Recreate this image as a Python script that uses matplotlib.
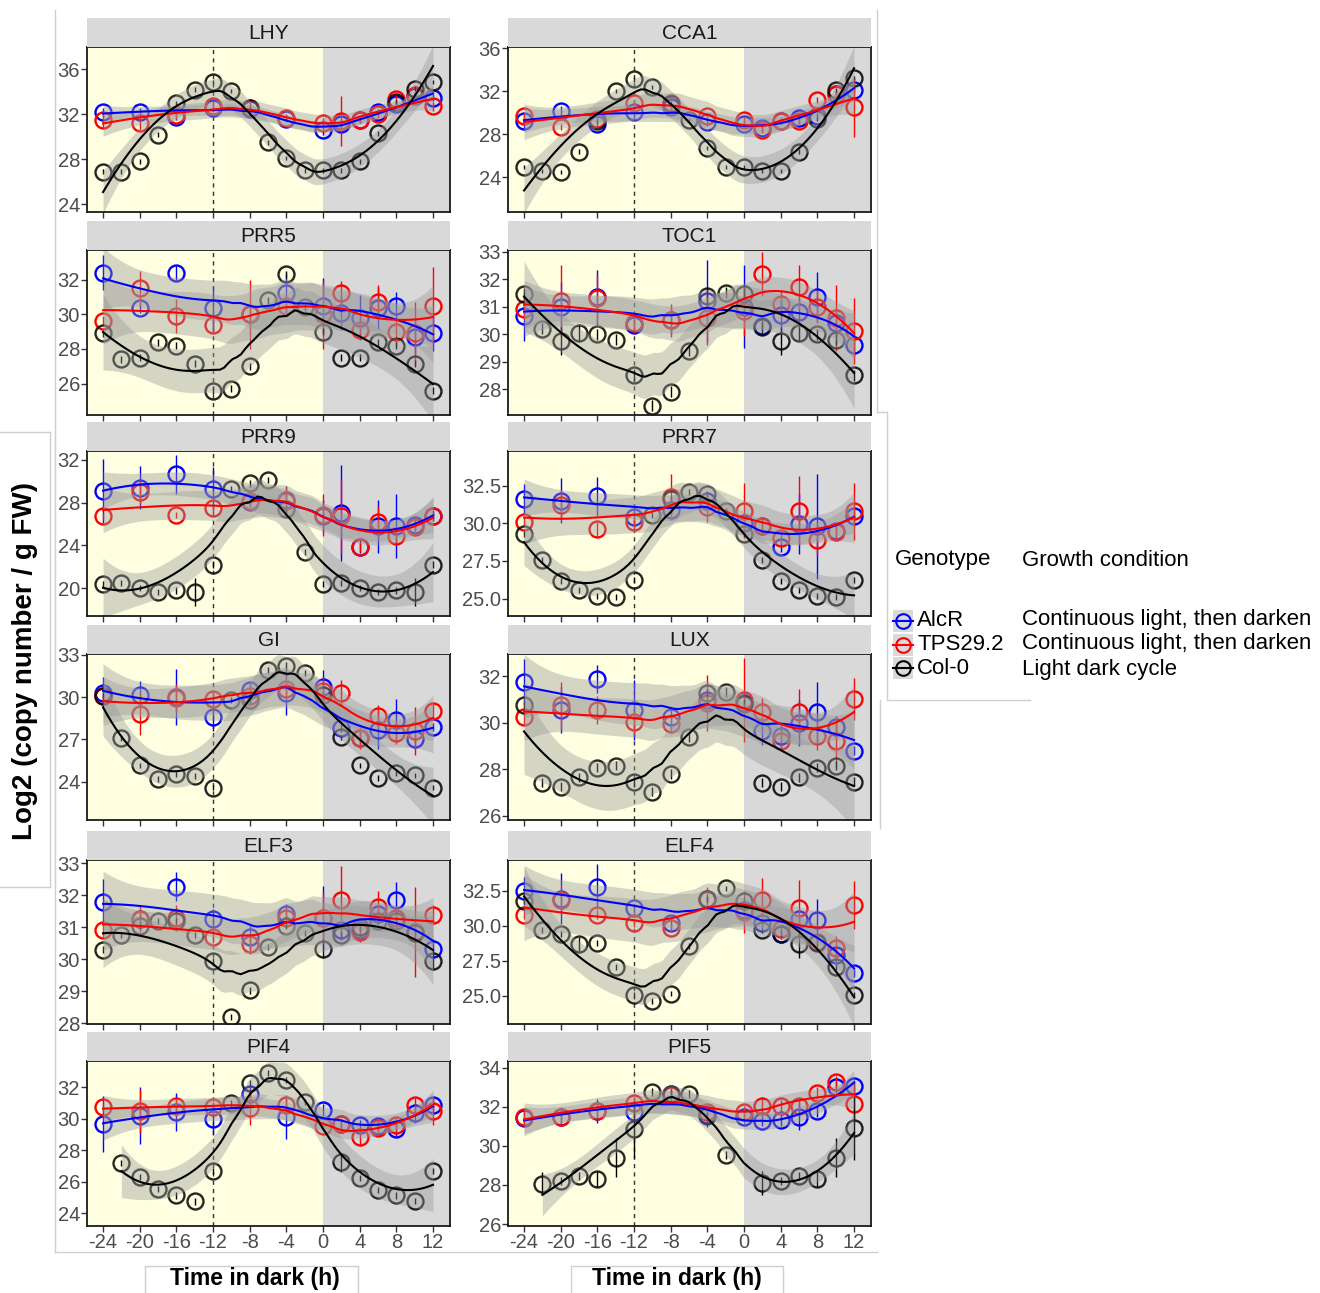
import numpy as np
import matplotlib
matplotlib.use('Agg')
import matplotlib.pyplot as plt
from matplotlib.patches import Rectangle

plt.rcParams['font.family'] = ['Liberation Sans', 'DejaVu Sans']
plt.rcParams['axes.unicode_minus'] = False

nan = np.nan

# sampling times (h in dark)
x_col = [-24, -22, -20, -18, -16, -14, -12, -10, -8, -6, -4, -2, 0, 2, 4, 6, 8, 10, 12]
x_trt = [-24, -20, -16, -12, -8, -4, 0, 2, 4, 6, 8, 10, 12]

genotypes = ['AlcR', 'TPS29.2', 'Col-0']
conditions = ['Continuous light, then darken', 'Continuous light, then darken', 'Light dark cycle']

# ---- LHY
lhy_col = [26.9, 26.9, 27.8, 30.2, 33.0, 34.2, 34.9, 34.1, 32.6, 29.5, 28.1, 27.0, 27.0, 27.0, 27.8, 30.3, 33.1, 34.3, 34.9]
lhy_col_err = [0.2, 0.2, 0.2, 0.2, 0.2, 0.2, 0.2, 0.2, 0.2, 0.2, 0.2, 0.2, 0.2, 0.2, 0.2, 0.2, 0.2, 0.2, 0.2]
lhy_alcr = [32.2, 32.2, 31.8, 32.6, 32.5, 31.6, 30.6, 31.1, 31.5, 32.2, 32.9, 33.6, 33.5]
lhy_alcr_err = [0.4, 0.4, 0.3, 0.3, 0.3, 0.3, 0.4, 0.4, 0.3, 0.3, 0.3, 0.3, 0.3]
lhy_tps = [31.5, 31.2, 31.9, 32.7, 32.6, 31.7, 31.2, 31.4, 31.5, 32.0, 33.4, 33.7, 32.7]
lhy_tps_err = [0.7, 0.7, 0.3, 0.3, 0.6, 0.3, 0.5, 2.2, 0.3, 0.3, 0.3, 0.3, 0.4]

# ---- CCA1
cca1_col = [25.0, 24.6, 24.5, 26.4, 29.25, 32.0, 33.1, 32.4, 30.8, 29.3, 26.75, 25.0, 25.0, 24.6, 24.6, 26.4, 29.4, 32.1, 33.2]
cca1_col_err = [0.2, 0.2, 0.2, 0.2, 0.2, 0.2, 0.2, 0.2, 0.2, 0.2, 0.2, 0.2, 0.2, 0.2, 0.2, 0.2, 0.2, 0.2, 0.2]
cca1_alcr = [29.2, 30.2, 29.0, 30.1, 30.5, 29.1, 29.0, 28.6, 29.25, 29.5, 29.7, 31.7, 32.1]
cca1_alcr_err = [0.8, 0.4, 0.3, 0.8, 0.3, 0.3, 0.3, 0.3, 0.3, 0.5, 0.3, 0.3, 0.3]
cca1_tps = [29.7, 28.7, 29.4, 30.9, 30.9, 29.7, 29.3, 28.4, 29.25, 29.25, 31.2, 31.7, 30.5]
cca1_tps_err = [0.3, 0.3, 0.3, 0.3, 0.8, 0.3, 0.3, 0.3, 0.3, 0.3, 0.3, 0.3, 2.7]

# ---- PRR5
prr5_col = [28.9, 27.4, 27.5, 28.4, 28.2, 27.15, 25.6, 25.7, 27.0, 30.8, 32.3, 30.4, 29.0, 27.5, 27.5, 28.4, 28.2, 27.15, 25.6]
prr5_col_err = [0.2, 0.2, 0.2, 0.2, 0.2, 0.2, 0.2, 0.2, 0.2, 0.2, 0.2, 0.2, 0.2, 0.2, 0.2, 0.2, 0.2, 0.2, 0.2]
prr5_alcr = [32.4, 30.35, 32.4, 30.35, 30.0, 31.2, 30.5, 30.1, 29.8, 30.35, 30.5, 28.7, 28.9]
prr5_alcr_err = [1.0, 0.3, 0.4, 1.3, 0.6, 1.1, 1.6, 1.0, 1.3, 1.2, 0.8, 1.0, 1.0]
prr5_tps = [29.6, 31.5, 29.9, 29.4, 30.0, 30.5, 30.0, 31.2, 29.1, 30.7, 29.0, 28.9, 30.5]
prr5_tps_err = [0.3, 1.0, 1.0, 0.5, 2.0, 0.3, 2.0, 0.7, 0.5, 1.0, 0.8, 1.8, 2.2]

# ---- TOC1
toc1_col = [31.47, 30.2, 29.75, 30.06, 30.0, 29.8, 28.5, 27.4, 27.9, 29.4, 31.4, 31.5, 31.47, 30.25, 29.75, 30.06, 30.0, 29.8, 28.5]
toc1_col_err = [0.2, 0.2, 0.5, 0.3, 0.2, 0.2, 0.2, 0.2, 0.2, 0.2, 0.3, 0.2, 0.2, 0.2, 0.5, 0.3, 0.2, 0.2, 0.2]
toc1_alcr = [30.65, 31.0, 31.35, 30.35, 30.5, 31.2, 31.0, 30.3, 30.7, 30.8, 31.35, 30.4, 29.6]
toc1_alcr_err = [0.9, 0.9, 1.0, 0.2, 0.5, 1.5, 1.5, 0.2, 0.6, 0.5, 0.9, 0.5, 0.4]
toc1_tps = [30.9, 31.2, 31.3, 30.4, 30.5, 30.6, 30.85, 32.2, 31.1, 31.7, 31.0, 30.6, 30.1]
toc1_tps_err = [0.3, 1.3, 0.9, 0.2, 0.6, 1.0, 0.9, 0.8, 0.5, 0.8, 0.6, 1.2, 1.2]

# ---- PRR9
prr9_col = [20.4, 20.5, 20.0, 19.65, 19.8, 19.65, 22.2, 29.3, 29.8, 30.1, 27.4, 23.4, 20.4, 20.5, 20.0, 19.65, 19.8, 19.65, 22.2]
prr9_col_err = [0.3, 0.3, 0.3, 0.3, 0.3, 1.3, 0.3, 0.3, 0.3, 0.3, 0.3, 0.3, 0.3, 0.3, 0.3, 0.3, 0.3, 1.3, 0.3]
prr9_alcr = [29.1, 29.4, 30.65, 29.3, 28.1, 28.3, 26.75, 27.0, 23.9, 25.8, 25.8, 25.9, 26.8]
prr9_alcr_err = [3.0, 2.0, 1.8, 2.0, 0.5, 1.3, 1.5, 4.5, 0.6, 2.5, 3.0, 0.5, 0.5]
prr9_tps = [26.75, 29.0, 26.85, 27.5, 28.15, 28.2, 26.85, 26.75, 23.85, 26.2, 24.9, 25.7, 26.75]
prr9_tps_err = [0.3, 1.0, 0.3, 0.5, 0.3, 1.3, 2.0, 3.5, 0.5, 1.5, 0.8, 0.5, 0.5]

# ---- PRR7
prr7_col = [29.26, 27.54, 26.15, 25.57, 25.2, 25.12, 26.26, 30.56, 31.6, 32.1, 31.97, 30.8, 29.26, 27.54, 26.15, 25.57, 25.2, 25.12, 26.26]
prr7_col_err = [0.2, 0.2, 0.2, 0.2, 0.2, 0.2, 0.2, 0.2, 0.2, 0.2, 0.2, 0.2, 0.2, 0.2, 0.2, 0.2, 0.2, 0.2, 0.2]
prr7_alcr = [31.63, 31.5, 31.8, 30.45, 30.9, 31.5, 30.0, 29.8, 28.4, 29.95, 29.8, 29.5, 30.5]
prr7_alcr_err = [1.0, 1.5, 1.3, 0.8, 0.3, 0.6, 0.6, 0.5, 0.3, 2.0, 3.5, 0.5, 0.4]
prr7_tps = [30.1, 31.2, 29.6, 30.1, 31.75, 31.1, 30.85, 29.8, 29.0, 30.85, 28.9, 29.45, 30.8]
prr7_tps_err = [0.3, 1.0, 0.5, 0.4, 1.5, 1.0, 1.8, 0.5, 0.5, 2.3, 1.0, 0.5, 1.9]

# ---- GI
gi_col = [30.07, 27.1, 25.17, 24.2, 24.57, 24.4, 23.6, 29.8, 29.8, 31.9, 32.2, 31.7, 30.14, 27.15, 25.17, 24.27, 24.6, 24.45, 23.6]
gi_col_err = [0.2, 0.2, 0.2, 0.2, 0.2, 0.2, 0.2, 0.2, 0.2, 0.2, 0.3, 0.2, 0.2, 0.2, 0.2, 0.2, 0.2, 0.2, 0.2]
gi_alcr = [30.3, 30.14, 30.0, 28.6, 30.47, 30.3, 30.7, 27.8, 27.1, 27.7, 28.4, 27.0, 27.87]
gi_alcr_err = [1.1, 1.0, 2.0, 1.0, 0.5, 1.6, 1.2, 0.3, 0.6, 1.4, 1.5, 0.5, 0.3]
gi_tps = [30.07, 28.8, 29.95, 29.9, 30.07, 30.6, 30.4, 30.3, 27.1, 28.65, 27.46, 27.6, 29.0]
gi_tps_err = [0.3, 1.5, 1.0, 0.5, 0.6, 0.6, 1.0, 0.9, 0.8, 0.8, 0.8, 1.7, 0.6]

# ---- LUX
lux_col = [30.75, 27.42, 27.25, 27.65, 28.07, 28.16, 27.43, 27.03, 27.8, 29.38, 31.28, 31.33, 30.83, 27.42, 27.25, 27.65, 28.07, 28.16, 27.46]
lux_col_err = [0.2, 0.2, 0.2, 0.2, 0.2, 0.2, 0.2, 0.2, 0.2, 0.2, 0.2, 0.2, 0.2, 0.2, 0.2, 0.2, 0.2, 0.2, 0.2]
lux_alcr = [31.77, 30.55, 31.88, 30.55, 30.26, 31.0, 30.87, 29.64, 29.42, 30.0, 30.46, 29.8, 28.8]
lux_alcr_err = [1.0, 1.0, 0.6, 1.3, 0.4, 0.3, 0.3, 0.6, 0.6, 1.0, 1.3, 0.5, 0.2]
lux_tps = [30.26, 30.75, 30.55, 30.03, 29.97, 30.87, 30.99, 30.46, 29.2, 30.46, 29.45, 29.2, 31.04]
lux_tps_err = [0.3, 1.0, 0.6, 0.5, 0.4, 1.2, 1.8, 0.6, 0.3, 1.0, 0.6, 1.1, 0.9]

# ---- ELF3
elf3_col = [30.3, 30.76, 31.05, 31.2, 31.2, 30.76, 29.95, 28.18, 29.02, 30.37, 31.05, 30.82, 30.32, 30.76, 31.0, 31.2, 31.2, 30.82, 29.95]
elf3_col_err = [0.1, 0.1, 0.1, 0.1, 0.1, 0.1, 0.1, 0.1, 0.1, 0.1, 0.1, 0.1, 0.3, 0.1, 0.1, 0.1, 0.1, 0.1, 0.3]
elf3_alcr = [31.8, 31.24, 32.26, 31.26, 30.68, 31.42, 31.28, 30.9, 30.9, 31.4, 31.86, 30.86, 30.32]
elf3_alcr_err = [0.7, 0.3, 0.45, 0.3, 0.4, 0.3, 1.0, 0.3, 0.3, 0.3, 0.55, 0.3, 0.3]
elf3_tps = [30.9, 31.26, 31.28, 30.7, 30.47, 31.3, 31.3, 31.86, 30.84, 31.63, 31.28, 30.84, 31.39]
elf3_tps_err = [0.2, 0.4, 0.4, 0.2, 0.3, 0.3, 0.8, 1.05, 0.3, 0.5, 0.3, 1.4, 0.3]

# ---- ELF4
elf4_col = [31.76, 29.7, 29.4, 28.7, 28.8, 27.07, 25.05, 24.64, 25.17, 28.57, 31.9, 32.67, 31.76, 29.7, 29.4, 28.7, 28.8, 27.07, 25.05]
elf4_col_err = [0.2, 0.2, 0.2, 0.5, 0.2, 0.2, 0.2, 0.2, 0.2, 0.2, 0.2, 0.2, 0.2, 0.2, 0.2, 1.0, 0.2, 0.2, 0.2]
elf4_alcr = [32.5, 31.95, 32.8, 31.29, 30.17, 31.9, 31.1, 30.2, 29.45, 30.48, 30.4, 27.9, 26.64]
elf4_alcr_err = [1.0, 1.8, 1.6, 0.3, 0.4, 0.3, 0.4, 0.3, 0.4, 0.4, 1.5, 0.5, 0.3]
elf4_tps = [30.8, 31.88, 30.8, 30.2, 29.86, 31.95, 31.0, 31.83, 29.8, 31.24, 28.86, 28.45, 31.48]
elf4_tps_err = [0.3, 0.8, 0.3, 0.3, 0.3, 0.8, 1.5, 1.6, 0.3, 2.0, 0.6, 0.8, 1.7]

# ---- PIF4
pif4_col = [nan, 27.2, 26.3, 25.54, 25.14, 24.76, 26.7, 30.98, 32.25, 32.93, 32.46, 31.06, nan, 27.24, 26.24, 25.5, 25.14, 24.8, 26.7]
pif4_col_err = [nan, 0.2, 0.2, 0.2, 0.2, 0.2, 0.2, 0.2, 0.2, 0.2, 0.2, 0.2, nan, 0.6, 0.2, 0.2, 0.2, 0.2, 0.2]
pif4_alcr = [29.68, 30.2, 30.42, 29.96, 31.55, 30.13, 30.55, 29.7, 29.64, 29.53, 29.36, 30.34, 30.9]
pif4_alcr_err = [1.8, 1.8, 1.2, 1.0, 0.5, 1.4, 0.4, 0.3, 0.3, 0.5, 0.5, 0.6, 0.5]
pif4_tps = [30.76, 30.5, 30.8, 30.76, 30.7, 30.85, 29.53, 29.7, 28.85, 29.43, 29.64, 30.9, 30.5]
pif4_tps_err = [0.3, 1.4, 0.6, 0.3, 1.1, 0.4, 0.3, 0.3, 0.6, 0.5, 0.5, 0.4, 0.9]

# ---- PIF5
pif5_col = [nan, 28.07, 28.2, 28.45, 28.31, 29.4, 30.86, 32.75, 32.67, 32.67, 31.55, 29.52, nan, 28.1, 28.2, 28.45, 28.31, 29.4, 30.9]
pif5_col_err = [nan, 0.6, 0.2, 0.2, 0.4, 1.0, 1.5, 0.2, 0.2, 0.2, 0.2, 0.2, nan, 0.6, 0.2, 0.2, 0.4, 1.0, 1.6]
pif5_alcr = [31.41, 31.46, 31.8, 31.76, 32.67, 31.58, 31.46, 31.3, 31.34, 31.5, 31.8, 33.0, 33.06]
pif5_alcr_err = [0.4, 0.4, 0.6, 0.3, 0.3, 0.6, 0.3, 0.3, 0.3, 0.7, 0.3, 0.3, 0.3]
pif5_tps = [31.5, 31.5, 31.8, 32.2, 32.6, 31.76, 31.72, 32.03, 32.03, 32.03, 32.72, 33.3, 32.15]
pif5_tps_err = [0.3, 0.5, 0.3, 0.3, 0.3, 0.3, 0.3, 0.5, 0.3, 0.3, 0.3, 0.3, 1.0]

genes = ['LHY', 'CCA1', 'PRR5', 'TOC1', 'PRR9', 'PRR7', 'GI', 'LUX', 'ELF3', 'ELF4', 'PIF4', 'PIF5']
gene_data = {
    'LHY': (lhy_alcr, lhy_alcr_err, lhy_tps, lhy_tps_err, lhy_col, lhy_col_err),
    'CCA1': (cca1_alcr, cca1_alcr_err, cca1_tps, cca1_tps_err, cca1_col, cca1_col_err),
    'PRR5': (prr5_alcr, prr5_alcr_err, prr5_tps, prr5_tps_err, prr5_col, prr5_col_err),
    'TOC1': (toc1_alcr, toc1_alcr_err, toc1_tps, toc1_tps_err, toc1_col, toc1_col_err),
    'PRR9': (prr9_alcr, prr9_alcr_err, prr9_tps, prr9_tps_err, prr9_col, prr9_col_err),
    'PRR7': (prr7_alcr, prr7_alcr_err, prr7_tps, prr7_tps_err, prr7_col, prr7_col_err),
    'GI': (gi_alcr, gi_alcr_err, gi_tps, gi_tps_err, gi_col, gi_col_err),
    'LUX': (lux_alcr, lux_alcr_err, lux_tps, lux_tps_err, lux_col, lux_col_err),
    'ELF3': (elf3_alcr, elf3_alcr_err, elf3_tps, elf3_tps_err, elf3_col, elf3_col_err),
    'ELF4': (elf4_alcr, elf4_alcr_err, elf4_tps, elf4_tps_err, elf4_col, elf4_col_err),
    'PIF4': (pif4_alcr, pif4_alcr_err, pif4_tps, pif4_tps_err, pif4_col, pif4_col_err),
    'PIF5': (pif5_alcr, pif5_alcr_err, pif5_tps, pif5_tps_err, pif5_col, pif5_col_err),
}

# axis layout per panel
ylims = [(23.3, 38.0), (20.8, 36.1), (24.2, 33.7), (27.06, 33.06), (17.4, 32.84), (23.85, 34.8),
         (21.3, 33.05), (25.81, 32.97), (27.97, 33.1), (23.0, 34.7), (23.2, 33.67), (25.9, 34.35)]
yticks = [[24, 28, 32, 36], [24, 28, 32, 36], [26, 28, 30, 32], [28, 29, 30, 31, 32, 33],
          [20, 24, 28, 32], [25.0, 27.5, 30.0, 32.5], [24, 27, 30, 33], [26, 28, 30, 32],
          [28, 29, 30, 31, 32, 33], [25.0, 27.5, 30.0, 32.5], [24, 26, 28, 30, 32], [26, 28, 30, 32, 34]]
xticks = [-24, -20, -16, -12, -8, -4, 0, 4, 8, 12]

W, H = 1320, 1293
col_px = [(87, 450), (508, 871)]
row_px = [(47, 212), (250, 415), (451, 616), (654, 820), (860, 1024), (1061, 1226)]
strip_h = 29
XLIM = (-25.75, 13.85)

colors = ['#0000FF', '#FF0000', '#000000']
yellow = '#FEFEE0'
dark = '#D9D9D9'
tick_col = '#4D4D4D'
frame_col = '#CFCFCF'


def rect(x0, y0, x1, y1):
    return [x0 / W, 1 - y1 / H, (x1 - x0) / W, (y1 - y0) / H]


def t_quant(df):
    # Cornish-Fisher approximation of the 97.5% Student t quantile
    z = 1.959964
    g1 = (z ** 3 + z) / 4
    g2 = (5 * z ** 5 + 16 * z ** 3 + 3 * z) / 96
    g3 = (3 * z ** 7 + 19 * z ** 5 + 17 * z ** 3 - 15 * z) / 384
    return z + g1 / df + g2 / df ** 2 + g3 / df ** 3


def loess(x, y, span=0.75, n_out=80):
    """local quadratic fit with tricube weights, like ggplot's geom_smooth default"""
    x = np.asarray(x, float)
    y = np.asarray(y, float)
    m = np.isfinite(y)
    x, y = x[m], y[m]
    n = len(x)
    q = int(np.floor(n * span))

    def row(x0):
        d = np.abs(x - x0)
        h = max(np.sort(d)[q - 1], 1e-9)
        u = np.clip(d / h, 0, 1)
        w = (1 - u ** 3) ** 3
        X = np.column_stack([np.ones(n), x - x0, (x - x0) ** 2])
        XtW = X.T * w
        return np.linalg.solve(XtW @ X, XtW)[0]

    L = np.array([row(v) for v in x])
    R = np.eye(n) - L
    M = R.T @ R
    d1, d2 = np.trace(M), np.trace(M @ M)
    sigma = np.sqrt(np.sum((R @ y) ** 2) / d1)
    t = t_quant(d1 ** 2 / d2)
    xs = np.linspace(x.min(), x.max(), n_out)
    Ls = np.array([row(v) for v in xs])
    fit = Ls @ y
    se = sigma * np.sqrt((Ls ** 2).sum(axis=1))
    return xs, fit, fit - t * se, fit + t * se


fig = plt.figure(figsize=(W / 100, H / 100), dpi=100)

# overlay in pixel coordinates for frame lines, labels and legend
ov = fig.add_axes([0, 0, 1, 1], zorder=-1)
ov.set_xlim(0, W)
ov.set_ylim(H, 0)
ov.axis('off')

for i, gene in enumerate(genes):
    r, c = divmod(i, 2)
    x0, x1 = col_px[c]
    y0, y1 = row_px[r]
    ax = fig.add_axes(rect(x0, y0, x1, y1))
    sax = fig.add_axes(rect(x0, y0 - strip_h, x1, y0))
    sax.set_facecolor(dark)
    sax.set_xticks([])
    sax.set_yticks([])
    for s in sax.spines.values():
        s.set_visible(False)
    sax.text(0.5, 0.45, gene, ha='center', va='center', fontsize=15, color='#1A1A1A',
             transform=sax.transAxes)

    ax.set_xlim(*XLIM)
    ax.set_ylim(*ylims[i])
    ax.axvspan(XLIM[0], 0, color=yellow, zorder=0, lw=0)
    ax.axvspan(0, XLIM[1], color=dark, zorder=0, lw=0)
    ax.axvline(-12, color='#333333', ls=(0, (3, 3)), lw=1.0, zorder=1)

    a, ae, t, te, cl, ce = gene_data[gene]
    series = [(x_trt, a, ae), (x_trt, t, te), (x_col, cl, ce)]
    for (xx, yy, ee), colr in zip(series, colors):
        xx = np.asarray(xx, float)
        yy = np.asarray(yy, float)
        ee = np.asarray(ee, float)
        ax.errorbar(xx, yy, yerr=ee, fmt='none', ecolor=colr, elinewidth=1.0, capsize=0, zorder=3)
        ax.plot(xx, yy, 'o', ms=11.5, mfc='none', mec=colr, mew=1.7, zorder=3,
                alpha=0.85 if colr == '#000000' else 1.0)
        xs, fit, lo, hi = loess(xx, yy)
        ax.fill_between(xs, lo, hi, color='#999999', alpha=0.4, lw=0, zorder=4)
        ax.plot(xs, fit, color=colr, lw=1.5, zorder=5)

    ax.set_yticks(yticks[i])
    if i in (5, 9):
        ax.set_yticklabels(['%.1f' % v for v in yticks[i]])
    else:
        ax.set_yticklabels([str(v) for v in yticks[i]])
    ax.set_xticks(xticks)
    if r == 5:
        ax.set_xticklabels([str(v) for v in xticks])
    else:
        ax.set_xticklabels([])
        ax.tick_params(axis='x', length=0)
    ax.tick_params(axis='both', labelsize=14.5, labelcolor=tick_col, color='#333333',
                   length=4, width=1, pad=1.0)
    for s in ax.spines.values():
        s.set_color('#1A1A1A')
        s.set_linewidth(1.3)
        s.set_zorder(6)

# frame lines from the composed figure
segs = [((55, 10), (55, 1252)), ((55, 1252), (877, 1252)), ((877, 10), (877, 412)),
        ((877, 412), (887, 412)), ((887, 412), (887, 700)), ((887, 700), (1030, 700)),
        ((880, 700), (880, 828)),
        ((0, 432), (50, 432)), ((50, 432), (50, 887)), ((0, 887), (50, 887))]
for (xa, ya), (xb, yb) in segs:
    ov.plot([xa, xb], [ya, yb], color=frame_col, lw=1)
for bx0, bx1 in [(145, 358), (571, 783)]:
    ov.add_patch(Rectangle((bx0, 1266), bx1 - bx0, 30, fill=False, ec=frame_col, lw=1))

# axis titles
ov.text(25, 661, 'Log2 (copy number / g FW)', rotation=90, ha='center', va='center',
        fontsize=20, fontweight='bold', color='black')
ov.text(255, 1279, 'Time in dark (h)', ha='center', va='center', fontsize=16.5,
        fontweight='bold', color='black')
ov.text(677, 1279, 'Time in dark (h)', ha='center', va='center', fontsize=16.5,
        fontweight='bold', color='black')

# legend
ov.text(895, 560, 'Genotype', ha='left', va='center', fontsize=16, color='black')
ov.text(1022, 560, 'Growth condition', ha='left', va='center', fontsize=16, color='black')
for k, (g, cond, colr) in enumerate(zip(genotypes, conditions, colors)):
    yc = 621 + k * 23.5
    ov.add_patch(Rectangle((893, yc - 11), 20, 22, color=dark, lw=0))
    ov.plot([893, 913], [yc, yc], color=colr, lw=1.5)
    ov.plot([903], [yc], 'o', ms=10.5, mfc='none', mec=colr, mew=1.5)
    ov.text(917, yc, g, ha='left', va='center', fontsize=16, color='black')
    ov.text(1022, yc - 2 + k * 1.5, cond, ha='left', va='center', fontsize=16, color='black')

fig.savefig('out.png', dpi=100)
